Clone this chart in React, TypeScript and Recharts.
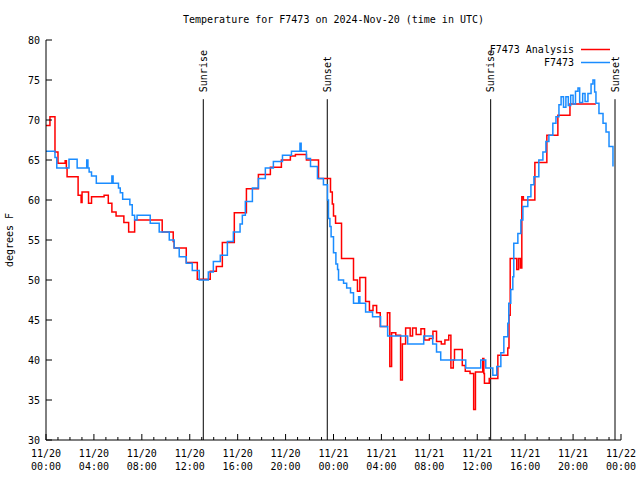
import { Line, LineChart, ReferenceLine, XAxis, YAxis } from 'recharts';

const FONT = '"DejaVu Sans Mono", "Liberation Mono", monospace';

// hours since 11/20 00:00 UTC
const analysisHours = [
  0.0, 0.33, 0.75, 1.0, 1.6, 1.7, 1.76, 2.68, 2.93, 3.01, 3.55, 3.8, 4.85, 5.2, 5.5, 5.85, 6.5, 6.9, 7.4, 9.7,
  10.62, 10.7, 11.71, 12.63, 13.71, 14.22, 14.72, 15.72, 16.73, 17.73, 18.73, 19.65, 20.4, 20.82, 21.74, 22.75,
  23.75, 23.9, 24.0, 24.17, 24.67, 25.67, 26.0, 26.2, 26.68, 27.0, 27.3, 27.6, 27.9, 28.5, 28.7, 28.85, 29.2,
  29.6, 29.75, 30.02, 30.4, 30.6, 30.9, 31.3, 31.6, 32.0, 32.3, 32.6, 33.0, 33.3, 33.62, 33.8, 34.0, 34.1,
  34.75, 35.0, 35.4, 35.7, 35.85, 36.46, 36.55, 36.6, 37.0, 37.72, 38.55, 38.65, 38.75, 39.3, 39.45, 39.6,
  39.72, 39.85, 40.81, 41.81, 42.73, 43.74, 45.9,
];
const analysisTemps = [
  69.3, 70.4, 66.0, 64.6, 64.9, 64.0, 62.9, 60.6, 59.7, 61.0, 59.6, 60.4, 60.6, 59.6, 58.5, 58.0, 57.2, 56.0, 57.5, 56.0,
  54.8, 54.0, 52.2, 50.1, 51.1, 51.7, 54.7, 58.4, 61.4, 63.2, 64.1, 65.0, 65.5, 65.7, 65.0, 62.7,
  61.0, 59.5, 58.0, 57.1, 52.7, 50.0, 48.6, 50.3, 47.3, 46.2, 46.8, 45.9, 44.2, 45.9, 39.2, 43.4, 43.1,
  37.5, 42.0, 44.0, 43.0, 44.0, 43.2, 43.9, 42.5, 42.7, 43.6, 42.3, 42.0, 42.5, 43.1, 39.0, 40.0, 41.3,
  39.3, 38.6, 38.3, 33.8, 38.5, 40.2, 38.3, 37.1, 37.7, 40.6, 41.5, 45.6, 52.7, 51.3, 52.7, 51.5,
  60.4, 60.0, 64.7, 68.1, 70.6, 72.0, 72.0,
];

const observedHours = [
  0.0, 0.75, 0.9, 1.92, 2.6, 3.4, 3.5, 3.6, 3.8, 4.2, 5.5, 5.6, 6.05, 6.2, 6.4, 7.0, 7.2, 7.4, 7.6, 8.7, 9.45,
  10.29, 10.7, 11.12, 11.71, 12.21, 12.79, 13.55, 13.97, 14.55, 15.14, 15.64, 16.2, 16.39, 16.64, 17.23, 17.73,
  18.31, 18.98, 19.74, 20.49, 21.2, 21.3, 21.74, 22.08, 22.66, 23.16, 23.5, 23.58, 23.7, 23.8, 24.0, 24.2,
  24.34, 24.42, 24.84, 25.1, 25.42, 25.67, 26.1, 26.2, 26.68, 27.26, 27.93, 28.52, 30.19, 31.53, 32.28, 32.6,
  32.95, 35.04, 36.29, 36.71, 37.3, 37.63, 37.97, 38.22, 38.55, 38.63, 38.8, 38.97, 39.05, 39.39, 39.64, 39.81,
  40.22, 40.48, 40.73, 41.14, 41.48, 41.73, 41.98, 42.31, 42.57, 42.82, 43.0, 43.2, 43.4, 43.6, 43.8, 44.0,
  44.2, 44.41, 44.55, 44.8, 45.0, 45.24, 45.5, 45.66, 45.8, 45.91, 46.16, 46.5, 46.75, 47.0, 47.33,
];
const observedTemps = [
  66.1, 65.3, 64.0, 65.1, 64.0, 65.0, 64.0, 63.5, 63.0, 62.1, 63.0, 62.1, 61.5, 60.9, 60.1, 59.4, 58.1, 57.5, 58.1, 57.1, 56.0,
  55.0, 54.0, 52.9, 52.1, 51.2, 50.0, 51.0, 52.3, 53.1, 54.8, 56.0, 57.0, 58.1, 59.8, 61.5, 62.7,
  64.0, 64.8, 65.6, 66.1, 67.1, 66.1, 65.2, 64.2, 62.7, 61.9, 60.0, 57.7, 56.7, 55.4, 53.4, 52.0,
  51.3, 50.0, 49.6, 49.0, 48.4, 47.1, 47.9, 47.1, 46.0, 45.4, 44.2, 43.0, 42.0, 43.0, 42.0, 41.0,
  40.0, 39.0, 40.0, 39.0, 38.1, 39.2, 40.9, 42.9, 44.6, 47.1, 48.8, 50.4, 54.6, 55.8, 57.5, 59.2,
  60.4, 61.9, 62.9, 65.0, 66.0, 67.3, 68.1, 69.6, 70.4, 71.9, 72.9, 71.6, 72.9, 71.8, 73.1, 72.0,
  73.6, 74.0, 72.2, 73.3, 72.3, 73.3, 74.5, 75.0, 73.5, 72.1, 70.8, 69.6, 68.5, 66.7, 64.2,
];

const xTickDates = ['11/20', '11/20', '11/20', '11/20', '11/20', '11/20', '11/21', '11/21', '11/21', '11/21', '11/21', '11/21', '11/22'];
const xTickTimes = ['00:00', '04:00', '08:00', '12:00', '16:00', '20:00', '00:00', '04:00', '08:00', '12:00', '16:00', '20:00', '00:00'];
const hourTicks = Array.from({ length: 49 }, (_, i) => i);
const yTicks = [30, 35, 40, 45, 50, 55, 60, 65, 70, 75, 80];

const sunEvents = [
  { h: 13.13, label: 'Sunrise' },
  { h: 23.48, label: 'Sunset' },
  { h: 37.12, label: 'Sunrise' },
  { h: 47.5, label: 'Sunset' },
];

const series = [
  { name: 'F7473 Analysis', color: '#ff0000', hours: analysisHours, temps: analysisTemps },
  { name: 'F7473', color: '#1a8cff', hours: observedHours, temps: observedTemps },
];

const BottomTick = (props: any) => {
  const { x, y, payload } = props;
  const h = payload.value;
  const major = h % 4 === 0;
  return (
    <g>
      <line x1={x} y1={y} x2={x} y2={y - (major ? 6 : 3)} stroke="#000" />
      {major && (
        <text textAnchor="middle" fontFamily={FONT} fontSize={10} fill="#000">
          <tspan x={x} y={y + 17}>{xTickDates[h / 4]}</tspan>
          <tspan x={x} y={y + 30}>{xTickTimes[h / 4]}</tspan>
        </text>
      )}
    </g>
  );
};

const TopTick = (props: any) => {
  const { x, y, payload } = props;
  const major = payload.value % 4 === 0;
  return <line x1={x} y1={y} x2={x} y2={y + (major ? 6 : 3)} stroke="#000" />;
};

const LeftTick = (props: any) => {
  const { x, y, payload } = props;
  return (
    <g>
      <line x1={x} y1={y} x2={x + 6} y2={y} stroke="#000" />
      <text x={x - 6} y={y + 4} textAnchor="end" fontFamily={FONT} fontSize={10} fill="#000">
        {payload.value}
      </text>
    </g>
  );
};

const RightTick = (props: any) => {
  const { x, y } = props;
  return <line x1={x} y1={y} x2={x - 6} y2={y} stroke="#000" />;
};

const SunLabel = (props: any) => {
  const { viewBox, text } = props;
  const x = viewBox.x;
  const y = viewBox.y - 7;
  return (
    <text
      transform={`translate(${x}, ${y}) rotate(-90)`}
      textAnchor="start"
      dominantBaseline="central"
      fontFamily={FONT}
      fontSize={10}
      fill="#000"
    >
      {text}
    </text>
  );
};

const textStyle = { fontFamily: FONT, fontSize: 10, lineHeight: '12px', color: '#000' };

export default function App() {
  return (
    <div style={{ position: 'absolute', left: 0, top: 0, width: 640, height: 480, background: '#fff' }}>
      <div style={{ ...textStyle, position: 'absolute', top: 14, left: 46, width: 575, textAlign: 'center' }}>
        Temperature for F7473 on 2024-Nov-20 (time in UTC)
      </div>
      <div
        style={{
          ...textStyle,
          position: 'absolute',
          left: 10,
          top: 240,
          transform: 'translate(-50%, -50%) rotate(-90deg)',
          whiteSpace: 'nowrap',
        }}
      >
        degrees F
      </div>
      <LineChart width={640} height={480} margin={{ top: 40, right: 19, bottom: 0, left: 0 }}>
        <XAxis
          dataKey="h"
          type="number"
          domain={[0, 48]}
          ticks={hourTicks}
          interval={0}
          height={40}
          tickSize={0}
          tickMargin={0}
          tick={<BottomTick />}
          axisLine={{ stroke: '#000' }}
          allowDataOverflow
        />
        <XAxis
          xAxisId="top"
          orientation="top"
          dataKey="h"
          type="number"
          domain={[0, 48]}
          ticks={hourTicks}
          interval={0}
          height={0}
          tickSize={0}
          tickMargin={0}
          tick={<TopTick />}
          axisLine={{ stroke: '#000' }}
          allowDataOverflow
        />
        <YAxis
          type="number"
          domain={[30, 80]}
          ticks={yTicks}
          interval={0}
          width={46}
          tickSize={0}
          tickMargin={0}
          tick={<LeftTick />}
          axisLine={{ stroke: '#000' }}
          allowDataOverflow
        />
        <YAxis
          yAxisId="right"
          orientation="right"
          type="number"
          domain={[30, 80]}
          ticks={yTicks}
          interval={0}
          width={0}
          tickSize={0}
          tickMargin={0}
          tick={<RightTick />}
          axisLine={{ stroke: '#000' }}
          allowDataOverflow
        />
        {sunEvents.map((s, i) => (
          <ReferenceLine
            key={i}
            segment={[
              { x: s.h, y: 72.6 },
              { x: s.h, y: 30 },
            ]}
            stroke="#000"
            strokeWidth={1}
            label={<SunLabel text={s.label} />}
          />
        ))}
        {series.map((s) => (
          <Line
            key={s.name}
            data={s.hours.map((h, i) => ({ h, temp: s.temps[i] }))}
            dataKey="temp"
            name={s.name}
            type="stepAfter"
            stroke={s.color}
            strokeWidth={1.5}
            dot={false}
            isAnimationActive={false}
          />
        ))}
      </LineChart>
      <div style={{ ...textStyle, position: 'absolute', top: 43, left: 420, width: 190 }}>
        {series.map((s) => (
          <div key={s.name} style={{ display: 'flex', alignItems: 'center', justifyContent: 'flex-end', height: 13 }}>
            <span>{s.name}</span>
            <svg width={36} height={13} style={{ display: 'block' }}>
              <line x1={7} y1={6.5} x2={36} y2={6.5} stroke={s.color} strokeWidth={1.5} />
            </svg>
          </div>
        ))}
      </div>
    </div>
  );
}
